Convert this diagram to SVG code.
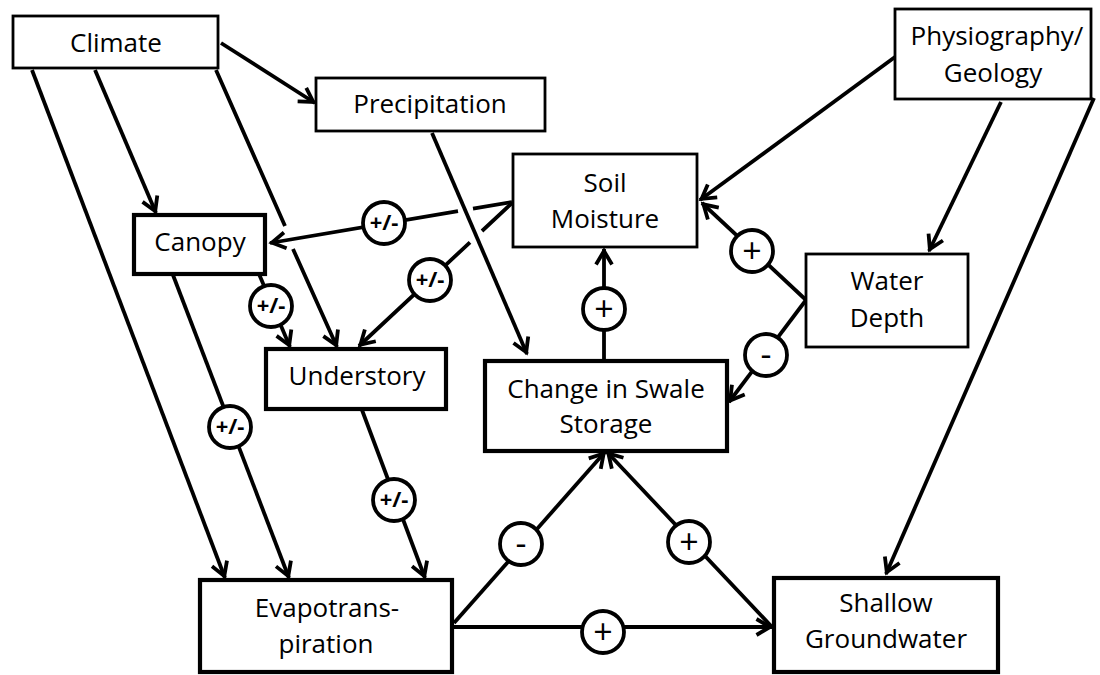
<svg xmlns="http://www.w3.org/2000/svg" width="1100" height="675" viewBox="0 0 1100 675">
  <defs>
    <style>
      .box { fill: #fff; stroke: #000; stroke-width: 2.8; }
      .box.thick { stroke-width: 4.2; }
      .lbl { font-family: "Open Sans", "Noto Sans", "Liberation Sans", sans-serif; font-size: 26px; fill: #000; text-anchor: middle; }
      .conn path { fill: none; stroke: #000; stroke-width: 3.8; marker-end: url(#ah); }
      .sign circle { fill: #fff; stroke: #000; stroke-width: 3.8; }
      .sign text { font-family: "Open Sans", "Noto Sans", "Liberation Sans", sans-serif; fill: #000; text-anchor: middle; }
      .sign .pm { font-size: 22px; font-weight: bold; }
      .sign .one { font-size: 34px; }
    </style>
    <!-- open V arrowhead, drawn in user units -->
    <marker id="ah" viewBox="-19 -11 24 22" refX="0" refY="0" markerWidth="24" markerHeight="22" markerUnits="userSpaceOnUse" orient="auto">
      <path d="M-15.5,-8 L-2,0 L-15.5,8" fill="none" stroke="#000" stroke-width="3.8" stroke-linejoin="miter"/>
    </marker>
  </defs>

  <rect width="1100" height="675" fill="#fff"/>

  <!-- connectors -->
  <g id="connectors" class="conn">
    <path d="M221,43 L315,103"/>
    <path d="M95,70 L156,213"/>
    <path d="M32,70 L225,578"/>
    <path d="M216,70 L285,226 M293,249 L337,347"/>
    <path d="M432,133 L527,354"/>
    <path d="M512,202 L473,208.6 M458,211.1 L270,243"/>
    <path d="M512,203 L482,231 M470,242.3 L359,346"/>
    <path d="M259,274 L290,347"/>
    <path d="M173,275 L289,578"/>
    <path d="M362,410 L425,578"/>
    <path d="M895,57 L700,200"/>
    <path d="M1001,102 L929,251"/>
    <path d="M1094,98 L886,574"/>
    <path d="M806,300 L702,203"/>
    <path d="M806,300 L729,402"/>
    <path d="M604,361 L604,249"/>
    <path d="M454,623 L605,452"/>
    <path d="M772,627 L607,452"/>
    <path d="M454,627 L772,627"/>

    <g class="sign">
      <circle cx="384" cy="223" r="21"/><text class="pm" x="384" y="230">+/-</text>
      <circle cx="430" cy="280" r="21"/><text class="pm" x="430" y="287">+/-</text>
      <circle cx="271" cy="306" r="21"/><text class="pm" x="271" y="313">+/-</text>
      <circle cx="230" cy="427" r="21"/><text class="pm" x="230" y="434">+/-</text>
      <circle cx="394" cy="500" r="21"/><text class="pm" x="394" y="507">+/-</text>
      <circle cx="752" cy="251" r="21"/><text class="one" x="752" y="263">+</text>
      <circle cx="766" cy="355" r="21"/><text class="one" x="766" y="366">-</text>
      <circle cx="604" cy="309" r="21"/><text class="one" x="604" y="321">+</text>
      <circle cx="521" cy="544" r="21"/><text class="one" x="521" y="555">-</text>
      <circle cx="689" cy="542" r="21"/><text class="one" x="689" y="554">+</text>
      <circle cx="603" cy="632" r="21"/><text class="one" x="603" y="644">+</text>
    </g>
  </g>

  <!-- nodes -->
  <g id="climate">
    <rect class="box" x="13" y="16" width="205" height="52"/>
    <text class="lbl" x="116" y="52">Climate</text>
  </g>
  <g id="precipitation">
    <rect class="box" x="316" y="78" width="229" height="53"/>
    <text class="lbl" x="430" y="113">Precipitation</text>
  </g>
  <g id="physiography">
    <rect class="box" x="895" y="9" width="196" height="90"/>
    <text class="lbl"><tspan x="997" y="45">Physiography/</tspan><tspan x="993" y="82">Geology</tspan></text>
  </g>
  <g id="soil-moisture">
    <rect class="box" x="513" y="154" width="184" height="93"/>
    <text class="lbl"><tspan x="605" y="192">Soil</tspan><tspan x="605" y="228">Moisture</tspan></text>
  </g>
  <g id="canopy">
    <rect class="box thick" x="134" y="215" width="131" height="59"/>
    <text class="lbl" x="200" y="251">Canopy</text>
  </g>
  <g id="water-depth">
    <rect class="box" x="806" y="254" width="162" height="93"/>
    <text class="lbl"><tspan x="887" y="290">Water</tspan><tspan x="887" y="327">Depth</tspan></text>
  </g>
  <g id="understory">
    <rect class="box thick" x="266" y="349" width="180" height="60"/>
    <text class="lbl" x="357" y="385">Understory</text>
  </g>
  <g id="swale-storage">
    <rect class="box thick" x="485" y="361" width="242" height="90"/>
    <text class="lbl"><tspan x="606" y="398">Change in Swale</tspan><tspan x="606" y="433">Storage</tspan></text>
  </g>
  <g id="evapotranspiration">
    <rect class="box thick" x="200" y="580" width="252" height="92"/>
    <text class="lbl"><tspan x="327" y="617">Evapotrans-</tspan><tspan x="326" y="653">piration</tspan></text>
  </g>
  <g id="groundwater">
    <rect class="box thick" x="774" y="578" width="224" height="94"/>
    <text class="lbl"><tspan x="886" y="612">Shallow</tspan><tspan x="886" y="648">Groundwater</tspan></text>
  </g>
</svg>
